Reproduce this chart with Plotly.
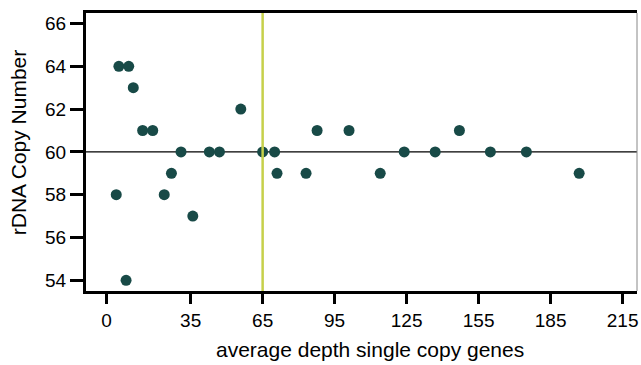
import plotly.graph_objects as go

depth = [4.0, 5.1, 8.1, 9.2, 11.1, 15.0, 19.2, 24.0, 27.0, 31.0, 35.9, 42.8, 47.0,
         55.9, 65.0, 70.0, 71.0, 83.1, 87.7, 101.0, 114.0, 124.0, 136.9, 147.0,
         159.9, 174.9, 196.9]
copies = [58, 64, 54, 64, 63, 61, 61, 58, 59, 60, 57, 60, 60,
          62, 60, 60, 59, 59, 61, 61, 59, 60, 60, 61,
          60, 60, 59]
x_ticks = [0, 35, 65, 95, 125, 155, 185, 215]
y_ticks = [54, 56, 58, 60, 62, 64, 66]
ref_copy = 60
ref_depth = 65
x_title = "average depth single copy genes"
y_title = "rDNA Copy Number"

font = "Liberation Sans, Arial, Helvetica, sans-serif"

fig = go.Figure()
fig.add_trace(go.Scatter(
    x=depth, y=copies, mode="markers",
    marker=dict(size=11, color="#184a47", line=dict(width=0)),
    showlegend=False, cliponaxis=False, hoverinfo="skip",
))

fig.add_shape(type="line", xref="paper", x0=0, x1=1, yref="y", y0=ref_copy, y1=ref_copy,
              line=dict(color="black", width=1.2), layer="below")
fig.add_shape(type="line", xref="x", x0=ref_depth, x1=ref_depth, yref="paper", y0=0, y1=1,
              line=dict(color="#c6d04a", width=2.5), layer="above")
fig.add_shape(type="line", xref="paper", x0=1, x1=1, yref="paper", y0=0, y1=1,
              line=dict(color="#888888", width=1), layer="above")

fig.add_annotation(text=x_title, xref="paper", yref="paper", x=0.516, y=-0.2097,
                   xanchor="center", yanchor="middle", showarrow=False,
                   font=dict(size=21, family=font, color="black"))
fig.add_annotation(text=y_title, xref="paper", yref="paper", x=-0.1221, y=0.534,
                   xanchor="center", yanchor="middle", showarrow=False, textangle=-90,
                   font=dict(size=21, family=font, color="black"))

fig.update_layout(
    width=641, height=365,
    margin=dict(l=86, r=4, t=13, b=74),
    paper_bgcolor="white", plot_bgcolor="white",
    font=dict(family=font, color="black"),
    xaxis=dict(
        range=[-8.6, 221.0], tickmode="array", tickvals=x_ticks,
        ticktext=[str(v) for v in x_ticks],
        showgrid=False, zeroline=False, automargin=False,
        showline=True, linecolor="black", linewidth=3, mirror=True,
        ticks="outside", ticklen=10, tickwidth=2.5, tickcolor="black",
        tickfont=dict(size=19, family=font),
    ),
    yaxis=dict(
        range=[53.5, 66.49], tickmode="array", tickvals=y_ticks,
        ticktext=[str(v) for v in y_ticks],
        showgrid=False, zeroline=False, automargin=False,
        showline=True, linecolor="black", linewidth=3,
        ticks="outside", ticklen=13, tickwidth=2.5, tickcolor="black",
        tickfont=dict(size=19, family=font),
    ),
)

fig.write_html("out.html", config={"displayModeBar": False},
               post_script="document.body.style.margin='0';")
